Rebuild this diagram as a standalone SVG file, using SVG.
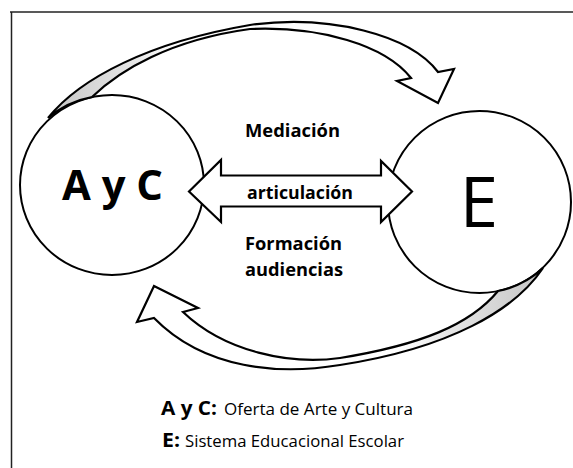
<svg xmlns="http://www.w3.org/2000/svg" width="573" height="468" viewBox="0 0 573 468">
<style>
  .frame { stroke: #222; stroke-width: 1.5; fill: none; }
  .node { fill: #fff; stroke: #000; stroke-width: 2; }
  .arrow { stroke: #000; stroke-width: 2.2; stroke-linejoin: miter; }
  .lbl { font-family: "Open Sans", "Liberation Sans", sans-serif; font-weight: bold; fill: #000; }
  .big { font-family: "Open Sans", "Liberation Sans", sans-serif; fill: #000; }
  .leg { font-family: "Open Sans", "Liberation Sans", sans-serif; fill: #000; }
</style>
<defs>
  <linearGradient id="gTop" gradientUnits="userSpaceOnUse" x1="55" y1="0" x2="175" y2="0">
    <stop offset="0" stop-color="#c8c8c8"/>
    <stop offset="0.6" stop-color="#e4e4e4"/>
    <stop offset="1" stop-color="#ffffff"/>
  </linearGradient>
  <linearGradient id="gBot" gradientUnits="userSpaceOnUse" x1="535" y1="0" x2="400" y2="0">
    <stop offset="0" stop-color="#c8c8c8"/>
    <stop offset="0.6" stop-color="#e4e4e4"/>
    <stop offset="1" stop-color="#ffffff"/>
  </linearGradient>
</defs>
<rect width="573" height="468" fill="#fff"/>
<g id="frame">
  <line class="frame" x1="10" y1="12" x2="573" y2="12"/>
  <line class="frame" x1="11.5" y1="12" x2="11.5" y2="468"/>
</g>
<g id="node-ayc">
  <ellipse class="node" cx="112" cy="185" rx="92" ry="90"/>
  <text class="lbl" x="62" y="200" font-size="41" textLength="101" lengthAdjust="spacingAndGlyphs">A y C</text>
</g>
<g id="node-e">
  <ellipse class="node" cx="479.5" cy="202" rx="91.5" ry="91"/>
  <text class="big" x="479" y="227" font-size="69" text-anchor="middle">E</text>
</g>
<g id="connectors">
  <path id="arrow-top" class="arrow" fill="url(#gTop)" d="M48,118 C80,78 150,42 250,25 C330,14 410,35 438,72 L454,69 L438,103 L397,81 L411,78 C385,45 320,26 250,29 C170,40 120,70 92,97 A92,90 0 0 0 48,118 Z"/>
  <path id="arrow-bottom" class="arrow" fill="url(#gBot)" d="M543,268 C515,310 450,348 340,365 C280,375 205,370 154,318 L137,322 L154,286 L198,308 L183,312 C225,352 290,365 340,358 C420,345 470,325 498,291 A91.5,91 0 0 0 543,268 Z"/>
  <path id="arrow-both" class="arrow" fill="#fff" stroke-width="1.8" d="M189,191.5 L221,160 L221,175.5 L381,175.5 L381,161 L412,191.5 L381,222 L381,206.5 L221,206.5 L221,222 Z"/>
</g>
<g id="labels">
  <text class="lbl" x="245" y="137" font-size="17" textLength="95" lengthAdjust="spacingAndGlyphs">Mediación</text>
  <text class="lbl" x="247" y="199" font-size="17" textLength="106" lengthAdjust="spacingAndGlyphs">articulación</text>
  <text class="lbl" x="245" y="250" font-size="17" textLength="97" lengthAdjust="spacingAndGlyphs">Formación</text>
  <text class="lbl" x="245" y="276" font-size="17" textLength="98" lengthAdjust="spacingAndGlyphs">audiencias</text>
</g>
<g id="legend">
  <text class="leg" y="415"><tspan x="161" font-weight="bold" font-size="19.5" textLength="56" lengthAdjust="spacingAndGlyphs">A y C:</tspan><tspan x="224" font-size="16" textLength="189" lengthAdjust="spacingAndGlyphs">Oferta de Arte y Cultura</tspan></text>
  <text class="leg" y="447"><tspan x="162" font-weight="bold" font-size="19.5" textLength="18" lengthAdjust="spacingAndGlyphs">E:</tspan><tspan x="185" font-size="16" textLength="219" lengthAdjust="spacingAndGlyphs">Sistema Educacional Escolar</tspan></text>
</g>
</svg>
